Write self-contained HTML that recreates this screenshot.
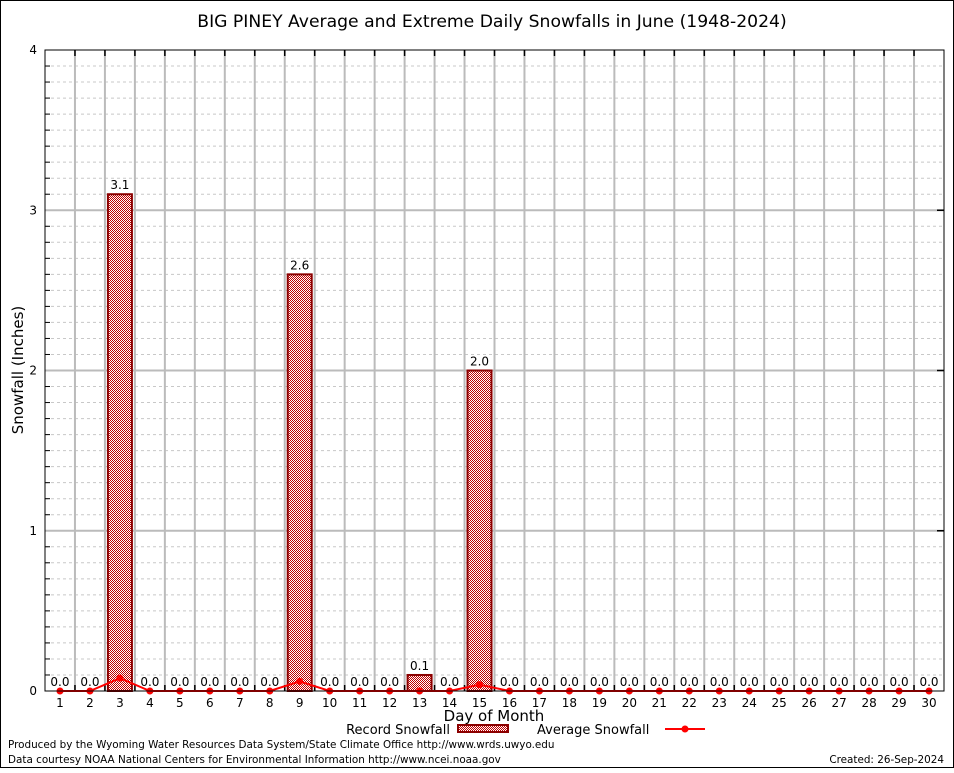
<!DOCTYPE html>
<html><head><meta charset="utf-8"><style>
body{margin:0;background:#fff}
svg text{font-family:"DejaVu Sans","Liberation Sans",sans-serif}
</style></head><body>
<svg id="c" width="954" height="768" xmlns="http://www.w3.org/2000/svg">
<defs>
<pattern id="hatch" width="2" height="2" patternUnits="userSpaceOnUse">
<rect width="2" height="2" fill="#fff"/>
<rect width="1" height="1" fill="#c00000"/><rect x="1" y="1" width="1" height="1" fill="#c00000"/>
</pattern>
</defs>
<rect x="0.5" y="0.5" width="953" height="767" fill="#fff" stroke="#000"/>
<text x="492" y="27" font-size="17.2" text-anchor="middle">BIG PINEY Average and Extreme Daily Snowfalls in June (1948-2024)</text>
<g id="grid"></g>
<g id="bars"></g>
<g id="avg"></g>
<rect x="45" y="50" width="899" height="641" fill="none" stroke="#000"/>
<text transform="translate(23,370) rotate(-90)" font-size="15" text-anchor="middle">Snowfall (Inches)</text>
<text x="494" y="721" font-size="15" text-anchor="middle">Day of Month</text>
<g>
<text x="450" y="734" font-size="13" text-anchor="end">Record Snowfall</text>
<rect x="458" y="725" width="50" height="7" fill="url(#hatch)" stroke="#8b0000" stroke-width="2"/>
<text x="537" y="734" font-size="13">Average Snowfall</text>
<line x1="665" y1="729" x2="705" y2="729" stroke="#f00" stroke-width="2"/>
<circle cx="685" cy="729" r="3.5" fill="#f00"/>
</g>
<text x="8" y="748" font-size="10.4">Produced by the Wyoming Water Resources Data System/State Climate Office http://www.wrds.uwyo.edu</text>
<text x="8" y="763" font-size="10.4">Data courtesy NOAA National Centers for Environmental Information http://www.ncei.noaa.gov</text>
<text x="944" y="763" font-size="10.4" text-anchor="end">Created:  26-Sep-2024</text>
</svg>
<script>
const days=[1,2,3,4,5,6,7,8,9,10,11,12,13,14,15,16,17,18,19,20,21,22,23,24,25,26,27,28,29,30];
const recordSnow=[0,0,3.1,0,0,0,0,0,2.6,0,0,0,0.1,0,2.0,0,0,0,0,0,0,0,0,0,0,0,0,0,0,0];
const avgSnow=[0,0,0.08,0,0,0,0,0,0.06,0,0,0,0,0,0.04,0,0,0,0,0,0,0,0,0,0,0,0,0,0,0];
const yTicks=[0,1,2,3,4];
const NS="http://www.w3.org/2000/svg";
const L=45,R=944,T=50,B=691,yMax=4;
const xs=d=>L+(d-0.5)*(R-L)/30;
const ys=v=>B-v*(B-T)/yMax;
function mk(tag,at,parent){const e=document.createElementNS(NS,tag);for(const k in at)e.setAttribute(k,at[k]);parent.appendChild(e);return e;}
const grid=document.getElementById('grid');
for(let i=1;i<yMax*10;i++){if(i%10===0)continue;const y=ys(i/10);
const l=mk('line',{x1:L,x2:R,y1:y,y2:y,stroke:'#c8c8c8','stroke-dasharray':'3,3'},grid);


const t=mk('line',{x1:L,x2:L+5,y1:y,y2:y,stroke:'#000'},grid);

}
for(let d=1;d<30;d++){const x=xs(d+0.5);
const l=mk('line',{x1:x,x2:x,y1:T,y2:B,stroke:'#bbb','stroke-width':2},grid);


const t=mk('line',{x1:x,x2:x,y1:T,y2:T+6,stroke:'#000','stroke-width':1.5},grid);


const t2=mk('line',{x1:x,x2:x,y1:B,y2:B-6,stroke:'#000','stroke-width':1.5},grid);

}
yTicks.forEach(v=>{const y=ys(v);
if(v>0&&v<yMax){const l=mk('line',{x1:L,x2:R,y1:y,y2:y,stroke:'#bbb','stroke-width':2},grid);


const t=mk('line',{x1:R-7,x2:R,y1:y,y2:y,stroke:'#000','stroke-width':1.5},grid);

}
const tx=mk('text',{x:L-8,y:y+4,'font-size':12,'text-anchor':'end'},grid);tx.textContent=v;

});
days.forEach(d=>{const tx=mk('text',{x:xs(d),y:B+16,'font-size':12,'text-anchor':'middle','font-family':'Liberation Serif, serif'},grid);tx.textContent=d;

});
const bars=document.getElementById('bars');
days.forEach((d,i)=>{const v=recordSnow[i];const x=xs(d);
if(v>0){const r=mk('rect',{x:x-12,y:ys(v),width:24,height:B-ys(v),fill:'url(#hatch)',stroke:'#8b0000','stroke-width':2},bars);

}
const t=mk('text',{x:x,y:ys(v)-5,'font-size':12,'text-anchor':'middle'},bars);t.textContent=v.toFixed(1);

});
const avg=document.getElementById('avg');
const pl=mk('polyline',{points:days.map((d,i)=>xs(d)+','+ys(avgSnow[i])).join(' '),fill:'none',stroke:'#f00','stroke-width':2},avg);


days.forEach((d,i)=>{const c=mk('circle',{cx:xs(d),cy:ys(avgSnow[i]),r:3.5,fill:'#f00'},avg);

});
</script>
</body></html>
